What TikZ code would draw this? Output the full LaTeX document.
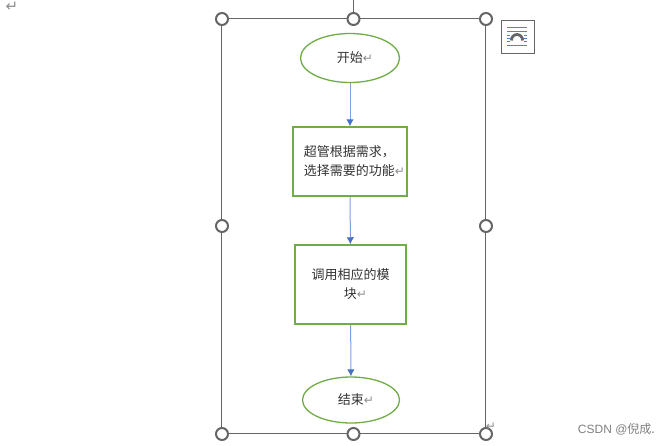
\documentclass[tikz,border=0pt]{standalone}
\usepackage{fontspec}
\setmainfont{Noto Sans CJK SC}
\newfontfamily\djv{DejaVu Sans}
\newfontfamily\lib{Liberation Sans}
\definecolor{fgreen}{HTML}{70AD47}
\definecolor{fblue}{HTML}{4472C4}
\definecolor{fline}{HTML}{7BA0E0}
\definecolor{fgray}{HTML}{666666}
\definecolor{iconblue}{HTML}{4F86C0}
\newcommand{\rmk}{{\djv\fontsize{12}{12}\selectfont\textcolor{black!45}{↵}}}
\newcommand{\rmkbig}{{\djv\fontsize{15}{15}\selectfont\textcolor{black!45}{↵}}}
\usetikzlibrary{shapes.geometric,arrows.meta}
\tikzset{
  x=1pt,y=-1pt,
  flowell/.style={draw=fgreen,line width=1.3pt,ellipse,inner sep=0pt,minimum width=#1,text=black!80,font=\fontsize{13}{19}\selectfont},
  flowbox/.style={draw=fgreen,line width=1.5pt,rectangle,inner sep=0pt,text=black!80,font=\fontsize{13}{19}\selectfont},
  flowarrow/.style={draw=fline,line width=1pt,-{Latex[length=7pt,width=7.5pt,fill=fblue,color=fblue]}},
  handle/.style={circle,draw=fgray,fill=white,line width=2pt,minimum size=12pt,inner sep=0pt},
  frameline/.style={draw=fgray,line width=1pt},
  iconline/.style={color=iconblue,line width=0.8pt},
  markcol/.style={inner sep=0pt}
}
\begin{document}
\begin{tikzpicture}
\useasboundingbox (0,0) rectangle (670,445);
\fill[white] (0,0) rectangle (670,445);
% frame
\node[frameline,rectangle,minimum width=264pt,minimum height=415pt,inner sep=0pt] (frame) at (353.5,226) {};
\coordinate (topfree) at (353.5,0);
\foreach \n/\x/\y in {tl/222/19,tc/353.5/19,tr/486/19,ml/222/226,mr/486/226,bl/222/434,bc/353.5/434,br/486/434}{
  \node[handle] (\n) at (\x,\y) {};
}
\draw[frameline] (topfree) -- (tc);
% flow
\node[flowell=99pt,minimum height=49pt] (start) at (350,58) {\hspace*{10pt}开始\rmk};
\node[flowbox,minimum width=114pt,minimum height=69pt,align=left] (b1) at (350,161.5) {\hspace*{9pt}超管根据需求，\\\hspace*{9pt}选择需要的功能\rmk};
\node[flowbox,minimum width=111pt,minimum height=79pt,align=center] (b2) at (350.5,284.5) {调用相应的模\\\hspace*{10pt}块\rmk};
\node[flowell=97pt,minimum height=46pt] (end) at (351,400) {\hspace*{10pt}结束\rmk};
\draw[flowarrow] (start) -- (b1);
\draw[flowarrow] (b1) -- (b2);
\draw[flowarrow] (b2) -- (end);
% layout icon
\node[draw=fgray,line width=1pt,minimum width=33pt,minimum height=33pt,inner sep=0pt] (icon) at (517.5,36.5) {};
\draw[iconline] (507,27) -- (527,27);
\draw[iconline] (507,31) -- (527,31);
\draw[iconline] (507,35) -- (510,35);
\draw[iconline] (524,35) -- (527,35);
\draw[iconline] (507,38) -- (510,38);
\draw[iconline] (524,38) -- (527,38);
\draw[iconline] (507,41.5) -- (510,41.5);
\draw[iconline] (524,41.5) -- (527,41.5);
\draw[iconline] (507,45) -- (527,45);
\draw[fgray,line width=2.8pt] (511.3,40.5) arc[start angle=180,end angle=0,x radius=5.7pt,y radius=6pt];
% paragraph marks
\node[markcol] (m1) at (12,7) {\rmkbig};
\node[markcol] (m2) at (491,427) {\rmk};
% watermark
\node[inner sep=0pt,anchor=east,text=black!50,font=\fontsize{12}{12}\selectfont] (wm) at (655,429.5) {{\lib CSDN @}倪成.};
\end{tikzpicture}
\end{document}
